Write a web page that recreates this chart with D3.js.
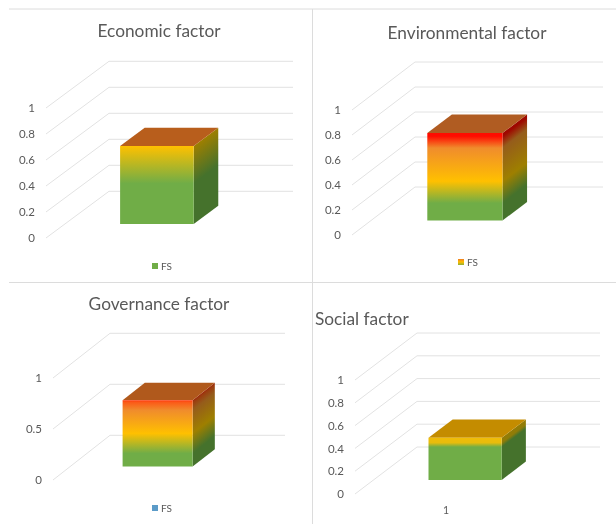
<!DOCTYPE html>
<html>
<head>
<meta charset="utf-8">
<script src="https://cdn.jsdelivr.net/npm/d3@7"></script>
<style>
html,body{margin:0;padding:0;background:#fff}
svg{display:block;filter:blur(0.35px)}
text{font-family:Lato,"Open Sans",sans-serif;fill:#595959}
</style>
</head>
<body>
<svg id="chart" width="616" height="524"></svg>
<script>
// ---- data ----
const titles = ["Economic factor", "Environmental factor", "Governance factor", "Social factor"];
const categories = ["FS"];
const fsValues = [0.6, 0.7, 0.65, 0.37];
const ticksA = [0, 0.2, 0.4, 0.6, 0.8, 1];
const ticksB = [0, 0.5, 1];
const tickSets = [ticksA, ticksA, ticksB, ticksA];
const legendLabels = ["FS", "FS", "FS", null];
const xTickLabels = [null, null, null, "1"];

// ---- styling and layout ----
const GREEN = "#70ad47", AMBER = "#ffc000", ORANGE = "#f08c2c", RED = "#ff0c00";
const gradients = [
  [[0, AMBER], [0.48, GREEN], [1, GREEN]],
  [[0, RED], [0.035, RED], [0.17, ORANGE], [0.55, AMBER], [0.8, GREEN], [1, GREEN]],
  [[0, "#ff3a10"], [0.03, "#fb5a18"], [0.15, ORANGE], [0.5, AMBER], [0.8, GREEN], [1, GREEN]],
  [[0, "#f0bc08"], [0.12, "#e8bc0c"], [0.22, GREEN], [1, GREEN]]
];
const topColors = ["#b85e1c", "#b05c22", "#b0591c", "#c48c00"];
const legendFills = ["#70ad47", "url(#legend1)", "#5b9bc8", null];
const layouts = [
  {fx:46,  fy0:238, fy1:108, bx0:109, bx1:293, by0:191.3, by1:60.3,
   tx:159, ty:37, anchor:"middle", tsize:17.3, lx:152, ly:263},
  {fx:352, fy0:235, fy1:110, bx0:415, bx1:603, by0:187,   by1:61.7,
   tx:467, ty:38.5, anchor:"middle", tsize:17.3, lx:458, ly:259},
  {fx:53,  fy0:480, fy1:378, bx0:110, bx1:285, by0:435.3, by1:333.3,
   tx:159, ty:310, anchor:"middle", tsize:17.3, lx:152, ly:505},
  {fx:355, fy0:494, fy1:380, bx0:417, bx1:600, by0:447,   by1:333.3,
   tx:315, ty:325, anchor:"start", tsize:17.3, xtx:446, xty:510}
];
const depthNear = 0.3, depthFar = 0.69;

const svg = d3.select("#chart");
const defs = svg.append("defs");
const darken = c => { const r = d3.rgb(c); return d3.rgb(r.r * 0.62, r.g * 0.66, r.b * 0.62).formatHex(); };
const addStops = (g, stops, fn) => stops.forEach(s =>
  g.append("stop").attr("offset", s[0]).attr("stop-color", fn ? fn(s[1]) : s[1]));

// frame lines
const frame = svg.append("g").attr("stroke", "#dcdcdc").attr("stroke-width", 1);
[[9,9,616,9],[312.5,9,312.5,524],[9,282.5,616,282.5]].forEach(l =>
  frame.append("line").attr("x1",l[0]).attr("y1",l[1]).attr("x2",l[2]).attr("y2",l[3]));

// legend swatch gradient for panel 2
const lg = defs.append("linearGradient").attr("id","legend1").attr("x1",0).attr("y1",0).attr("x2",0).attr("y2",1);
addStops(lg, [[0,"#ef7d22"],[0.5,AMBER],[1,"#8fae35"]]);

titles.forEach((title, i) => {
  const L = layouts[i];
  const g = svg.append("g");
  const y = d3.scaleLinear().domain([0, 1]).range([L.fy0, L.fy1]);
  const floorDx = L.bx0 - L.fx, floorDy = L.fy0 - L.by0;
  const x = d3.scaleBand().domain(categories)
    .range([L.fx, L.fx + (L.bx1 - L.bx0)]).paddingInner(0.6).paddingOuter(0.3);

  // projection: value-space point with depth t (0 front, 1 back wall)
  const P = (px, v, t) => [px + t * floorDx, y(v) - t * floorDy];

  // gridlines: side wall + back wall
  const grid = g.append("g").attr("fill","none").attr("stroke","#e2e2e2").attr("stroke-width",1);
  grid.selectAll("path").data(tickSets[i]).join("path")
    .attr("d", v => d3.line()([P(L.fx, v, 0), P(L.fx, v, 1), [L.bx1, y(v) - floorDy]]));

  // y axis
  const axis = g.append("g").attr("transform", `translate(${L.fx - 11},0)`)
    .call(d3.axisLeft(y).tickValues(tickSets[i]).tickSize(0).tickPadding(0).tickFormat(d3.format("")));
  axis.select(".domain").remove();
  axis.selectAll("text").attr("font-size", 11.5).attr("font-family", "Lato,'Open Sans',sans-serif").attr("fill","#595959");

  // bar
  categories.forEach(cat => {
    const v = fsValues[i], x0 = x(cat), x1 = x0 + x.bandwidth();
    const fbl = P(x0,0,depthNear), fbr = P(x1,0,depthNear), ftl = P(x0,v,depthNear), ftr = P(x1,v,depthNear);
    const bbr = P(x1,0,depthFar), btr = P(x1,v,depthFar), btl = P(x0,v,depthFar);

    const front = defs.append("linearGradient").attr("id",`front${i}`)
      .attr("gradientUnits","userSpaceOnUse").attr("x1",0).attr("x2",0).attr("y1",ftl[1]).attr("y2",fbl[1]);
    addStops(front, gradients[i]);

    // side gradient runs normal to the receding edge
    const sdx = btr[0]-ftr[0], sdy = ftr[1]-btr[1], len = Math.hypot(sdx,sdy);
    const h = fbr[1]-ftr[1], k = h*sdx/(len*len);
    const side = defs.append("linearGradient").attr("id",`side${i}`)
      .attr("gradientUnits","userSpaceOnUse")
      .attr("x1",ftr[0]).attr("y1",ftr[1]).attr("x2",ftr[0]+sdy*k).attr("y2",ftr[1]+sdx*k);
    addStops(side, gradients[i], darken);

    const poly = d3.line().curve(d3.curveLinearClosed);
    g.append("path").attr("d",poly([ftr,fbr,bbr,btr])).attr("fill",`url(#side${i})`);
    g.append("path").attr("d",poly([ftl,ftr,btr,btl])).attr("fill",topColors[i]);
    g.append("path").attr("d",poly([ftl,ftr,fbr,fbl])).attr("fill",`url(#front${i})`);
  });

  // title
  g.append("text").attr("x",L.tx).attr("y",L.ty).attr("text-anchor",L.anchor)
    .attr("font-size",L.tsize).text(title);

  // legend
  if (legendLabels[i]) {
    g.append("rect").attr("x",L.lx).attr("y",L.ly).attr("width",6).attr("height",6).attr("fill",legendFills[i]);
    g.append("text").attr("x",L.lx+9).attr("y",L.ly+7).attr("font-size",10).text(legendLabels[i]);
  }
  // category tick
  if (xTickLabels[i]) {
    g.append("text").attr("x",L.xtx).attr("y",L.xty+4).attr("text-anchor","middle")
      .attr("font-size",10.5).text(xTickLabels[i]);
  }
});
</script>
</body>
</html>
